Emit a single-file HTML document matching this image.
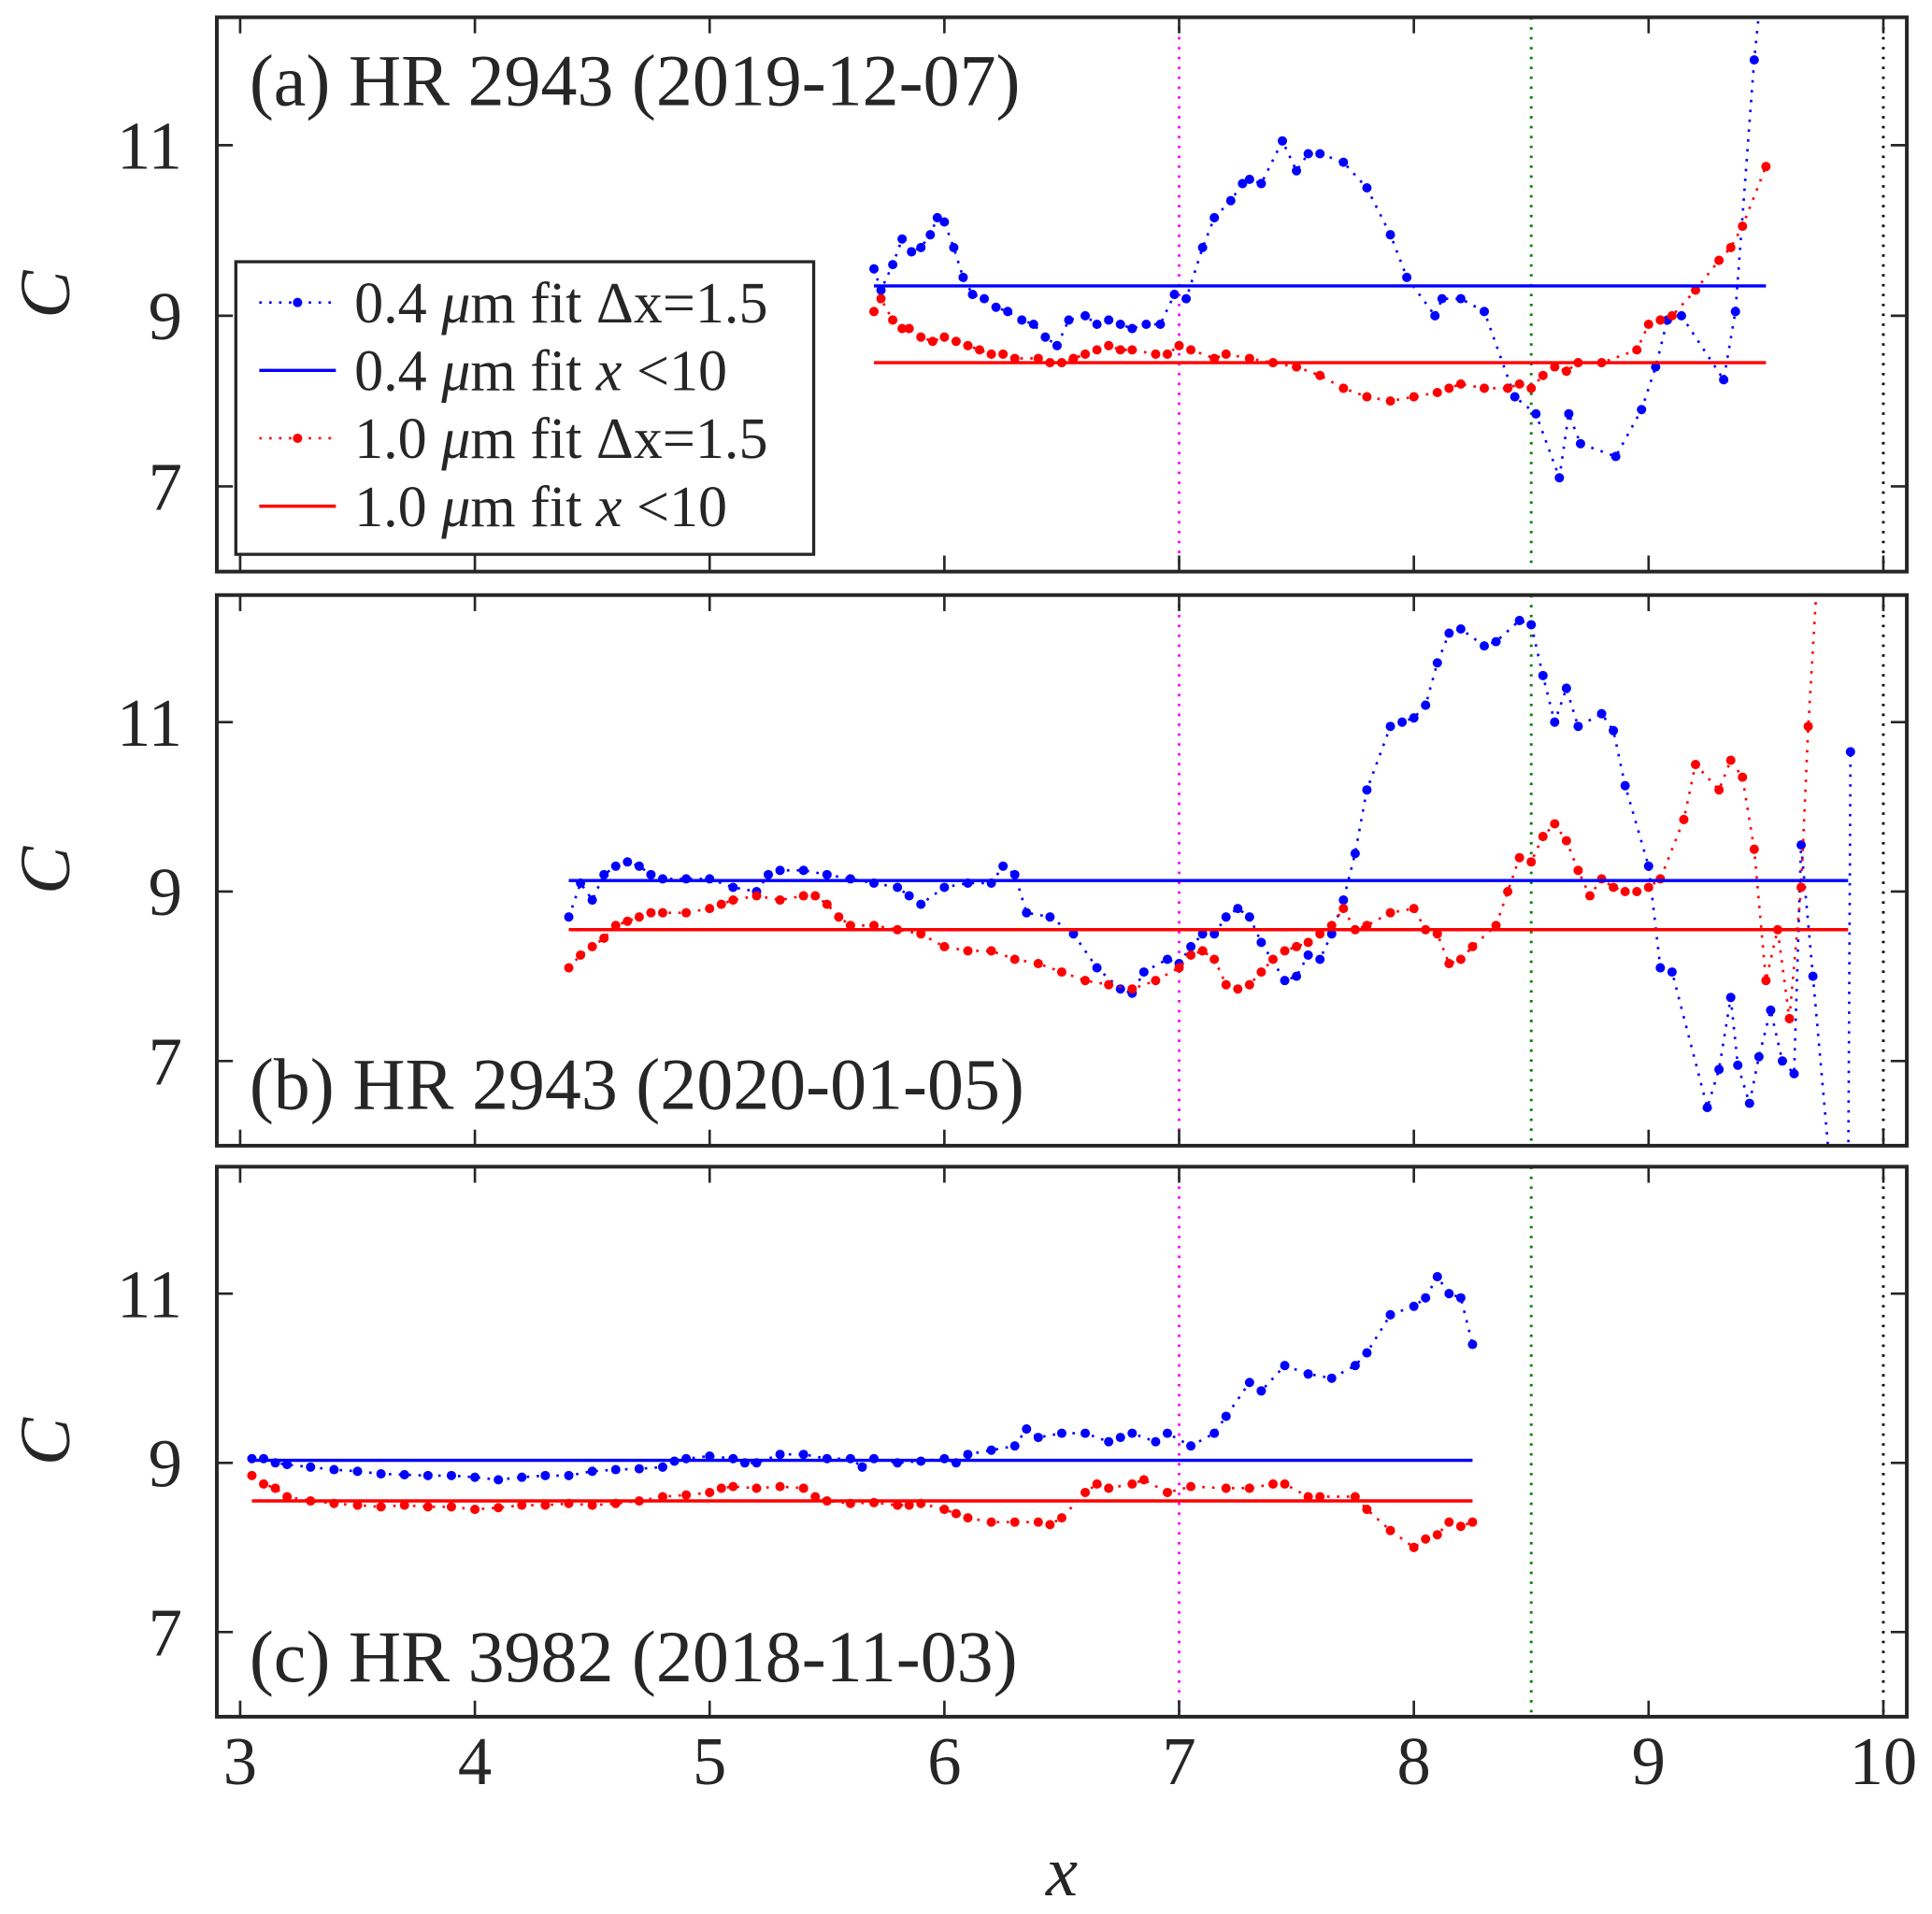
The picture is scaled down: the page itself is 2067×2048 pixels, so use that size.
<!DOCTYPE html>
<html><head><meta charset="utf-8"><style>
html,body{margin:0;padding:0;background:#fff}
svg{display:block}
text{font-family:"Liberation Serif",serif;fill:#262626}
</style></head><body>
<svg id="chart" width="2067" height="2048" viewBox="0 0 1564.7 1550.3" preserveAspectRatio="none" xmlns="http://www.w3.org/2000/svg"></svg>
<script>
const xTicks=[3,4,5,6,7,8,9,10];
const yTicks=[7,9,11];
const vlines=[7,8.5,10];
const vlineColors=["#ff00ff","#008000","#000000"];
const titles=["(a) HR 2943 (2019-12-07)","(b) HR 2943 (2020-01-05)","(c) HR 3982 (2018-11-03)"];
const aBlueX=[5.7,5.73,5.78,5.82,5.86,5.9,5.94,5.97,6.0,6.04,6.08,6.12,6.17,6.22,6.27,6.33,6.38,6.43,6.48,6.53,6.6,6.65,6.7,6.75,6.8,6.86,6.92,6.98,7.03,7.1,7.15,7.22,7.27,7.3,7.35,7.44,7.5,7.55,7.6,7.7,7.8,7.9,7.97,8.09,8.12,8.2,8.3,8.43,8.52,8.62,8.66,8.71,8.86,8.97,9.03,9.08,9.14,9.32,9.37,9.45,9.48];
const aBlueC=[9.55,9.3,9.6,9.9,9.75,9.8,9.95,10.15,10.1,9.8,9.45,9.25,9.2,9.1,9.05,8.95,8.9,8.75,8.65,8.95,9.0,8.9,8.95,8.9,8.85,8.9,8.9,9.25,9.2,9.8,10.15,10.35,10.55,10.6,10.55,11.05,10.7,10.9,10.9,10.8,10.5,9.95,9.45,9.0,9.2,9.2,9.05,8.05,7.85,7.1,7.85,7.5,7.35,7.9,8.4,8.95,9.0,8.25,9.05,12.0,12.8];
const aRedX=[5.7,5.73,5.78,5.82,5.85,5.9,5.95,6.0,6.05,6.1,6.15,6.2,6.25,6.3,6.4,6.45,6.5,6.55,6.6,6.65,6.7,6.75,6.8,6.9,6.95,7.0,7.05,7.15,7.2,7.3,7.4,7.5,7.6,7.7,7.8,7.9,8.0,8.1,8.15,8.2,8.3,8.4,8.45,8.5,8.55,8.6,8.65,8.7,8.8,8.95,9.0,9.05,9.1,9.2,9.3,9.35,9.4,9.5];
const aRedC=[9.05,9.2,8.95,8.85,8.85,8.75,8.7,8.75,8.7,8.65,8.6,8.55,8.55,8.5,8.5,8.45,8.45,8.5,8.55,8.6,8.65,8.6,8.6,8.55,8.55,8.65,8.6,8.5,8.55,8.5,8.45,8.4,8.3,8.15,8.05,8.0,8.05,8.1,8.15,8.2,8.15,8.15,8.2,8.15,8.3,8.4,8.35,8.45,8.45,8.6,8.9,8.95,9.0,9.3,9.65,9.8,10.05,10.75];
const bBlueX=[4.4,4.45,4.5,4.55,4.6,4.65,4.7,4.75,4.8,4.9,5.0,5.1,5.2,5.25,5.3,5.4,5.5,5.6,5.7,5.8,5.85,5.9,6.0,6.1,6.2,6.25,6.3,6.35,6.45,6.55,6.65,6.75,6.8,6.85,6.95,7.0,7.05,7.1,7.15,7.2,7.25,7.3,7.35,7.45,7.5,7.55,7.6,7.65,7.7,7.75,7.8,7.9,7.95,8.0,8.05,8.1,8.15,8.2,8.3,8.35,8.45,8.5,8.55,8.6,8.65,8.7,8.8,8.85,8.9,9.0,9.05,9.1,9.25,9.3,9.35,9.38,9.43,9.47,9.52,9.57,9.62,9.65,9.7,9.78,9.85,9.86];
const bBlueC=[8.7,9.1,8.9,9.2,9.3,9.35,9.3,9.2,9.15,9.15,9.15,9.05,9.0,9.2,9.25,9.25,9.2,9.15,9.1,9.05,8.95,8.85,9.05,9.1,9.1,9.3,9.2,8.75,8.7,8.5,8.1,7.85,7.8,8.05,8.2,8.15,8.35,8.5,8.5,8.7,8.8,8.7,8.4,7.95,8.0,8.25,8.2,8.5,8.9,9.45,10.2,10.95,11.0,11.05,11.2,11.7,12.05,12.1,11.9,11.95,12.2,12.15,11.55,11.0,11.4,10.95,11.1,10.9,10.25,9.3,8.1,8.05,6.45,6.9,7.75,6.95,6.5,7.05,7.6,7.0,6.85,9.55,8.0,5.5,5.5,10.65];
const bRedX=[4.4,4.45,4.5,4.55,4.6,4.65,4.7,4.75,4.8,4.9,5.0,5.05,5.1,5.2,5.3,5.4,5.45,5.5,5.55,5.6,5.7,5.8,5.9,6.0,6.1,6.2,6.3,6.4,6.5,6.6,6.7,6.8,6.9,7.0,7.05,7.1,7.15,7.2,7.25,7.3,7.35,7.4,7.45,7.5,7.55,7.6,7.65,7.7,7.75,7.8,7.9,8.0,8.05,8.1,8.15,8.2,8.25,8.35,8.4,8.45,8.5,8.55,8.6,8.65,8.7,8.75,8.8,8.85,8.9,8.95,9.0,9.05,9.15,9.2,9.3,9.35,9.4,9.45,9.5,9.55,9.6,9.65,9.68,9.72];
const bRedC=[8.1,8.25,8.35,8.45,8.6,8.65,8.7,8.75,8.75,8.75,8.8,8.85,8.9,8.95,8.9,8.95,8.95,8.85,8.7,8.6,8.6,8.55,8.5,8.35,8.3,8.3,8.2,8.15,8.05,7.95,7.9,7.85,7.95,8.1,8.25,8.3,8.2,7.9,7.85,7.9,8.05,8.2,8.3,8.35,8.4,8.5,8.6,8.8,8.55,8.6,8.75,8.8,8.55,8.5,8.15,8.2,8.35,8.6,9.0,9.4,9.35,9.65,9.8,9.6,9.25,8.95,9.15,9.05,9.0,9.0,9.05,9.15,9.85,10.5,10.2,10.55,10.35,9.5,7.95,8.55,7.5,9.05,10.95,12.8];
const cBlueX=[3.05,3.1,3.15,3.2,3.3,3.4,3.5,3.6,3.7,3.8,3.9,4.0,4.1,4.2,4.3,4.4,4.5,4.6,4.7,4.8,4.85,4.9,5.0,5.1,5.15,5.2,5.3,5.4,5.5,5.6,5.65,5.7,5.8,5.9,6.0,6.05,6.1,6.2,6.3,6.35,6.4,6.5,6.6,6.7,6.75,6.8,6.9,6.95,7.05,7.15,7.2,7.3,7.35,7.45,7.55,7.65,7.75,7.8,7.9,8.0,8.05,8.1,8.15,8.2,8.25];
const cBlueC=[9.05,9.05,9.0,8.98,8.95,8.92,8.9,8.87,8.86,8.85,8.85,8.83,8.8,8.83,8.85,8.85,8.9,8.92,8.93,8.95,9.02,9.05,9.08,9.05,9.0,9.0,9.1,9.1,9.05,9.05,8.95,9.05,9.0,9.02,9.05,9.0,9.1,9.15,9.2,9.4,9.3,9.35,9.35,9.25,9.3,9.35,9.25,9.35,9.2,9.35,9.55,9.95,9.85,10.15,10.05,10.0,10.15,10.3,10.75,10.85,10.95,11.2,11.0,10.95,10.4];
const cRedX=[3.05,3.1,3.15,3.2,3.3,3.4,3.5,3.6,3.7,3.8,3.9,4.0,4.1,4.2,4.3,4.4,4.5,4.6,4.7,4.8,4.9,5.0,5.05,5.1,5.2,5.3,5.4,5.45,5.5,5.6,5.7,5.8,5.85,5.9,6.0,6.05,6.1,6.2,6.3,6.4,6.45,6.5,6.6,6.65,6.7,6.8,6.85,6.95,7.05,7.2,7.3,7.4,7.45,7.55,7.6,7.75,7.8,7.9,8.0,8.05,8.1,8.15,8.2,8.25];
const cRedC=[8.85,8.75,8.7,8.6,8.55,8.52,8.5,8.48,8.5,8.48,8.48,8.45,8.47,8.5,8.5,8.52,8.5,8.52,8.55,8.6,8.62,8.65,8.7,8.72,8.7,8.72,8.7,8.6,8.55,8.52,8.53,8.5,8.5,8.52,8.45,8.4,8.35,8.3,8.3,8.3,8.27,8.35,8.65,8.75,8.7,8.75,8.8,8.65,8.72,8.7,8.7,8.75,8.75,8.6,8.6,8.6,8.45,8.2,8.0,8.1,8.15,8.3,8.25,8.3];
const fitBlue=[9.35,9.13,9.03];
const fitRed=[8.45,8.55,8.55];
const fitRange=[[5.7,9.5],[4.4,9.85],[3.05,8.25]];

const NS="http://www.w3.org/2000/svg";
const svg=document.getElementById('chart');
function el(t,a,p){const e=document.createElementNS(NS,t);for(const k in a)e.setAttribute(k,a[k]);(p||svg).appendChild(e);return e;}
const L=175.6,R=1544.3,XMIN=2.9006,XMAX=10.1,YMIN=6.0,YMAX=12.5;
const panels=[{top:14,bot:463},{top:482,bot:928},{top:945,bot:1390.5}];
const sx=v=>L+(v-XMIN)/(XMAX-XMIN)*(R-L);
const series=[[aBlueX,aBlueC,aRedX,aRedC],[bBlueX,bBlueC,bRedX,bRedC],[cBlueX,cBlueC,cRedX,cRedC]];
const letters=['a','b','c'];
panels.forEach((p,i)=>{
  const sy=v=>p.bot-(v-YMIN)/(YMAX-YMIN)*(p.bot-p.top);
  const g=el('g',{});
  
  
  const cid='clip'+i;
  const cp=el('clipPath',{id:cid},g);el('rect',{x:L,y:p.top,width:R-L,height:p.bot-p.top},cp);
  const pg=el('g',{'clip-path':'url(#'+cid+')'},g);
  vlines.forEach((v,j)=>{
    const ln=el('line',{x1:sx(v),x2:sx(v),y1:p.top,y2:p.bot,stroke:vlineColors[j],'stroke-width':2.2,'stroke-dasharray':'2 6'},pg);
    
    
  });
  const s=series[i];
  [[s[0],s[1],'#0000ff','blue'],[s[2],s[3],'#ff0000','red']].forEach(([xs,cs,col,nm])=>{
    const pts=xs.map((x,k)=>sx(x).toFixed(1)+','+sy(cs[k]).toFixed(1)).join(' ');
    const pl=el('polyline',{points:pts,fill:'none',stroke:col,'stroke-width':2,'stroke-dasharray':'2 6'},pg);
    
    
    xs.forEach((x,k)=>{
      const c=el('circle',{cx:sx(x),cy:sy(cs[k]),r:3.8,fill:col},pg);
      
      
    });
  });
  const fr=fitRange[i];
  [[fitBlue[i],'#0000ff','blue'],[fitRed[i],'#ff0000','red']].forEach(([v,col,nm])=>{
    const ln=el('line',{x1:sx(fr[0]),x2:sx(fr[1]),y1:sy(v),y2:sy(v),stroke:col,'stroke-width':2.6},pg);
    
    
  });
  xTicks.forEach(t=>{
    el('line',{x1:sx(t),x2:sx(t),y1:p.top,y2:p.top+13,stroke:'#262626','stroke-width':2},g);
    el('line',{x1:sx(t),x2:sx(t),y1:p.bot,y2:p.bot-13,stroke:'#262626','stroke-width':2},g);
  });
  yTicks.forEach(t=>{
    el('line',{x1:L,x2:L+13,y1:sy(t),y2:sy(t),stroke:'#262626','stroke-width':2},g);
    el('line',{x1:R,x2:R-13,y1:sy(t),y2:sy(t),stroke:'#262626','stroke-width':2},g);
    const tx=el('text',{x:L-28,y:sy(t)+19,'text-anchor':'end','font-size':55},g);
    tx.textContent=t;
    
    
  });
  const fr2=el('rect',{x:L,y:p.top,width:R-L,height:p.bot-p.top,fill:'none',stroke:'#262626','stroke-width':3},g);
  
  
  const yl=el('text',{x:0,y:0,'font-size':58,'font-style':'italic','text-anchor':'middle',transform:'translate(56,'+((p.top+p.bot)/2)+') rotate(-90)'},g);
  yl.textContent='C';
  
  
  const ty=i===0?85:(i===1?898:1362);
  const tt=el('text',{x:202,y:ty,'font-size':59},g);
  tt.textContent=titles[i];
  
  
});
xTicks.forEach(t=>{
  const tx=el('text',{x:sx(t),y:1445,'text-anchor':'middle','font-size':55});
  tx.textContent=t;
  
  
});
const xl=el('text',{x:860,y:1535,'text-anchor':'middle','font-size':58,'font-style':'italic'});
xl.textContent='x';


const lg=el('g',{});


el('rect',{x:191,y:212,width:468,height:237,fill:'#fff',stroke:'#262626','stroke-width':2.5},lg);
const entries=[['#0000ff',true,'0.4 '],['#0000ff',false,'0.4 '],['#ff0000',true,'1.0 '],['#ff0000',false,'1.0 ']];
entries.forEach((e,k)=>{
  const y=245+k*55;
  const eg=el('g',{},lg);
  
  
  if(e[1]){
    el('line',{x1:210,x2:272,y1:y,y2:y,stroke:e[0],'stroke-width':2,'stroke-dasharray':'2 6'},eg);
    el('circle',{cx:241,cy:y,r:3.8,fill:e[0]},eg);
  } else el('line',{x1:210,x2:272,y1:y,y2:y,stroke:e[0],'stroke-width':2.6},eg);
  const t=el('text',{x:287,y:y+16,'font-size':47},eg);
  t.innerHTML=e[1]?e[2]+'<tspan font-style="italic">μ</tspan>m fit Δx=1.5':e[2]+'<tspan font-style="italic">μ</tspan>m fit <tspan font-style="italic">x</tspan> &lt;10';
});
</script>
</body></html>
